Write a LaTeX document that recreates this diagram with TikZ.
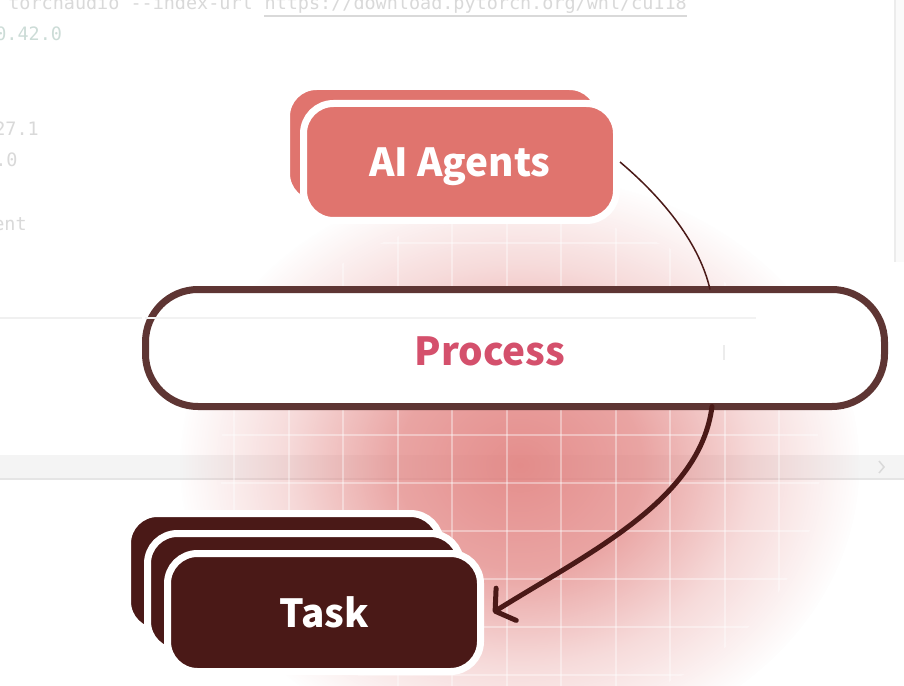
\documentclass[tikz,border=0pt]{standalone}
\usepackage{fontspec}
\usetikzlibrary{arrows.meta, fadings}
\newfontfamily\labelfont{Noto Sans CJK KR}
\newfontfamily\codefont{DejaVu Sans Mono}
\definecolor{agentred}{HTML}{E0746E}
\definecolor{procedge}{HTML}{5E3533}
\definecolor{proctext}{HTML}{D4506C}
\definecolor{taskbrown}{HTML}{4A1917}
\definecolor{glowred}{HTML}{E07A78}
\definecolor{codegray}{HTML}{D9D9D9}
\definecolor{codenum}{HTML}{CCDCD7}
\definecolor{stripgray}{HTML}{F4F4F4}
\pgfdeclareradialshading{glowmask}{\pgfpointorigin}{color(0bp)=(pgftransparent!15); color(9bp)=(pgftransparent!32); color(17bp)=(pgftransparent!72); color(25bp)=(pgftransparent!100); color(50bp)=(pgftransparent!100)}
\pgfdeclarefading{glowfade}{\pgfuseshading{glowmask}}

\begin{document}
\begin{tikzpicture}[
  card/.style={draw=white, line width=0.14cm, rounded corners=0.6cm, minimum width=6.26cm, minimum height=2.34cm, text=white, text depth=0pt, font=\labelfont\bfseries\fontsize{22}{26}\selectfont},
  agentbox/.style={card, fill=agentred},
  taskbox/.style={card, fill=taskbrown, minimum height=2.36cm},
  procbox/.style={draw=procedge, fill=white, line width=0.14cm, rounded corners=1.05cm, minimum width=14.78cm, minimum height=2.34cm},
  link/.style={taskbrown, line width=0.03cm},
  flow/.style={taskbrown, line width=0.1cm, line cap=round, -{Straight Barb[length=0.26cm, width=0.76cm, round]}},
  code/.style={anchor=base west, inner sep=0pt, font=\codefont\fontsize{10.5}{12}\selectfont},
  faint/.style={line width=0.03cm}
]

% canvas
\fill[white] (0,0) rectangle (18.08,-13.72);
\clip (0,0) rectangle (18.08,-13.72);

% screenshot behind
\fill[stripgray] (0,-9.1) rectangle (18.08,-9.58);
\draw[faint, gray!20] (0,-9.58) -- (18.08,-9.58);
\fill[gray!4] (17.9,0) rectangle (18.08,-5.24);
\draw[faint, gray!15] (17.9,0) -- (17.9,-5.24);
\draw[faint, gray!12] (0,-6.36) -- (2.84,-6.36);
\draw[faint, gray!30] (17.58,-9.22) -- (17.68,-9.34) -- (17.58,-9.46);
\node[code, text=codegray] (cmd) at (0.16,-0.2) {torchaudio --index-url};
\node[code, text=codegray] (url) at ([xshift=0.224cm]cmd.base east) {https://download.pytorch.org/whl/cu118};
\draw[faint, codegray] ([yshift=-0.12cm]url.base west) -- ([yshift=-0.12cm]url.base east);
\node[code, text=codenum] (ver1) at (-0.1,-0.82) {0.42.0};
\node[code, text=codegray] (ver2) at (-0.12,-2.72) {27.1};
\node[code, text=codegray] (ver3) at (-0.1,-3.34) {.0};
\node[code, text=codegray] (ver4) at (-0.14,-4.62) {ent};

% glow and grid
\fill[glowred, path fading=glowfade] (10.4,-9.3) ellipse (6.8cm and 5.8cm);
\begin{scope}
  \clip (10.4,-9.3) ellipse (6.0cm and 5.0cm);
  \foreach \gx in {0,...,10}
    \draw[white, opacity=0.38, line width=0.04cm] (4.68+1.09*\gx,-4.0) -- ++(0,-10);
  \foreach \gy in {0,...,9}
    \draw[white, opacity=0.38, line width=0.04cm] (3.5,-4.86-0.96*\gy) -- ++(14,0);
\end{scope}

% Nodes
\node[agentbox] (agentsback) at (8.86,-2.9) {};
\node[agentbox] (agents) at (9.2,-3.24) {AI Agents};
\node[procbox] (process) at (10.3,-6.96) {};
\draw[faint, gray!10] (2.9,-6.36) -- (15.12,-6.36);
\draw[faint, gray!15] (14.48,-6.9) -- (14.48,-7.2);
\node[text=proctext, text depth=0pt, font=\labelfont\bfseries\fontsize{22}{26}\selectfont] (proclabel) at (9.8,-7.03) {Process};
\node[taskbox] (taskback) at (5.68,-11.45) {};
\node[taskbox] (taskmid) at (6.08,-11.85) {};
\node[taskbox] (task) at (6.48,-12.25) {Task};

% Arrows
\coordinate (ptop) at (14.2,-5.79);
\coordinate (pbot) at (14.24,-8.13);
\draw[link] (agents.east) .. controls (13.3,-4.0) and (14.0,-4.9) .. (ptop);
\draw[flow] (pbot) .. controls (14.0,-10.0) and (11.8,-11.04) .. ([xshift=0.18cm]task.east);

\end{tikzpicture}
\end{document}
